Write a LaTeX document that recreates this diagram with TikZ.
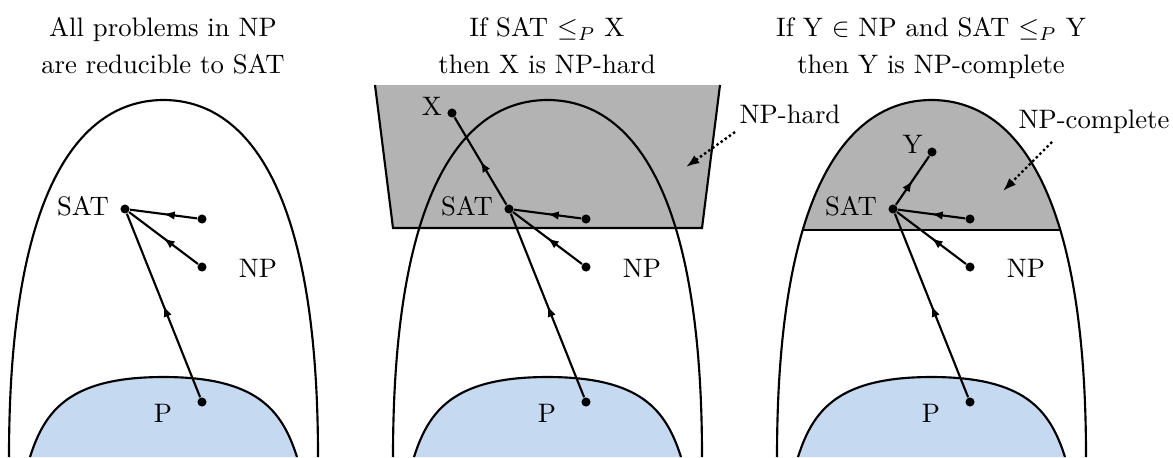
\documentclass[tikz,border=0pt]{standalone}
\usetikzlibrary{arrows.meta,decorations.markings}
\definecolor{pblue}{RGB}{197,217,241}
\definecolor{hardgray}{RGB}{179,179,179}
\tikzset{
  dotn/.style={circle,fill=black,inner sep=0pt,minimum size=3.4pt},
  midarrow/.style={line width=0.8pt, postaction={decorate},
    decoration={markings, mark=at position 0.5 with {\arrow{Latex[length=4.2pt,width=3.2pt]}}}},
  outline/.style={line width=0.8pt},
  lbl/.style={anchor=base, inner sep=0pt},
  hint/.style={line width=0.9pt, densely dotted, -{Latex[length=5pt,width=3.6pt]}},
  np/.style={insert path={(9,457) .. controls (9,170) and (90,100) .. (163.5,100) .. controls (237,100) and (318,170) .. (318,457)}},
  blob/.style={insert path={(30,457) .. controls (45,410) and (70,377) .. (163.5,377) .. controls (257,377) and (282,410) .. (297,457)}}
}
\begin{document}
\begin{tikzpicture}[x=0.3745pt,y=-0.3745pt]
\useasboundingbox (0,0) rectangle (1173,457);

% ---------- titles
\node[lbl] (t1a) at (163,36) {All problems in NP};
\node[lbl] (t1b) at (163,73) {are reducible to SAT};
\node[lbl] (t2a) at (547,36) {If SAT $\leq_P$ X};
\node[lbl] (t2b) at (547,73) {then X is NP-hard};
\node[lbl] (t3a) at (931,36) {If Y $\in$ NP and SAT $\leq_P$ Y};
\node[lbl] (t3b) at (931,73) {then Y is NP-complete};

% ---------- panel 1
\begin{scope}
  \draw[outline,np];
  \fill[pblue,blob] -- cycle;
  \draw[outline,blob];
  \node[dotn] (sat1) at (125,209) {};
  \node[dotn] (npa1) at (202,219) {};
  \node[dotn] (npb1) at (202,267) {};
  \node[dotn] (p1) at (202,402) {};
  \draw[midarrow] (npa1) -- (sat1);
  \draw[midarrow] (npb1) -- (sat1);
  \draw[midarrow] (p1) -- (sat1);
  \node[lbl] (satl1) at (83,215) {SAT};
  \node[lbl] (npl1) at (258,277) {NP};
  \node[lbl] (pl1) at (163,422) {P};
\end{scope}

% ---------- panel 2
\begin{scope}[shift={(384,0)}]
  \fill[hardgray] (-9,85) -- (9,228) -- (318,228) -- (336,85) -- cycle;
  \draw[outline] (-9,85) -- (9,228) -- (318,228) -- (336,85);
  \draw[outline,np];
  \fill[pblue,blob] -- cycle;
  \draw[outline,blob];
  \node[dotn] (sat2) at (125,209) {};
  \node[dotn] (npa2) at (202,219) {};
  \node[dotn] (npb2) at (202,267) {};
  \node[dotn] (p2) at (202,402) {};
  \node[dotn] (x2) at (68,113) {};
  \draw[midarrow] (npa2) -- (sat2);
  \draw[midarrow] (npb2) -- (sat2);
  \draw[midarrow] (p2) -- (sat2);
  \draw[midarrow] (sat2) -- (x2);
  \node[lbl] (satl2) at (83,215) {SAT};
  \node[lbl] (npl2) at (258,277) {NP};
  \node[lbl] (pl2) at (163,422) {P};
  \node[lbl] (xl2) at (48,115) {X};
  \node[lbl] (hardl) at (406,123) {NP-hard};
  \coordinate (hs) at (351,132);
  \coordinate (he) at (302,167);
  \draw[hint] (hs) -- (he);
\end{scope}

% ---------- panel 3
\begin{scope}[shift={(768,0)}]
  \begin{scope}
    \clip[np];
    \fill[hardgray] (0,90) rectangle (330,230);
    \draw[outline] (0,230) -- (330,230);
  \end{scope}
  \draw[outline,np];
  \fill[pblue,blob] -- cycle;
  \draw[outline,blob];
  \node[dotn] (sat3) at (125,209) {};
  \node[dotn] (npa3) at (202,219) {};
  \node[dotn] (npb3) at (202,267) {};
  \node[dotn] (p3) at (202,402) {};
  \node[dotn] (y3) at (164,152) {};
  \draw[midarrow] (npa3) -- (sat3);
  \draw[midarrow] (npb3) -- (sat3);
  \draw[midarrow] (p3) -- (sat3);
  \draw[midarrow] (sat3) -- (y3);
  \node[lbl] (satl3) at (83,215) {SAT};
  \node[lbl] (npl3) at (258,277) {NP};
  \node[lbl] (pl3) at (163,422) {P};
  \node[lbl] (yl3) at (144.5,153) {Y};
  \node[lbl] (compl) at (326,128) {NP-complete};
  \coordinate (cs) at (284,142);
  \coordinate (ce) at (235,191);
  \draw[hint] (cs) -- (ce);
\end{scope}
\end{tikzpicture}
\end{document}
